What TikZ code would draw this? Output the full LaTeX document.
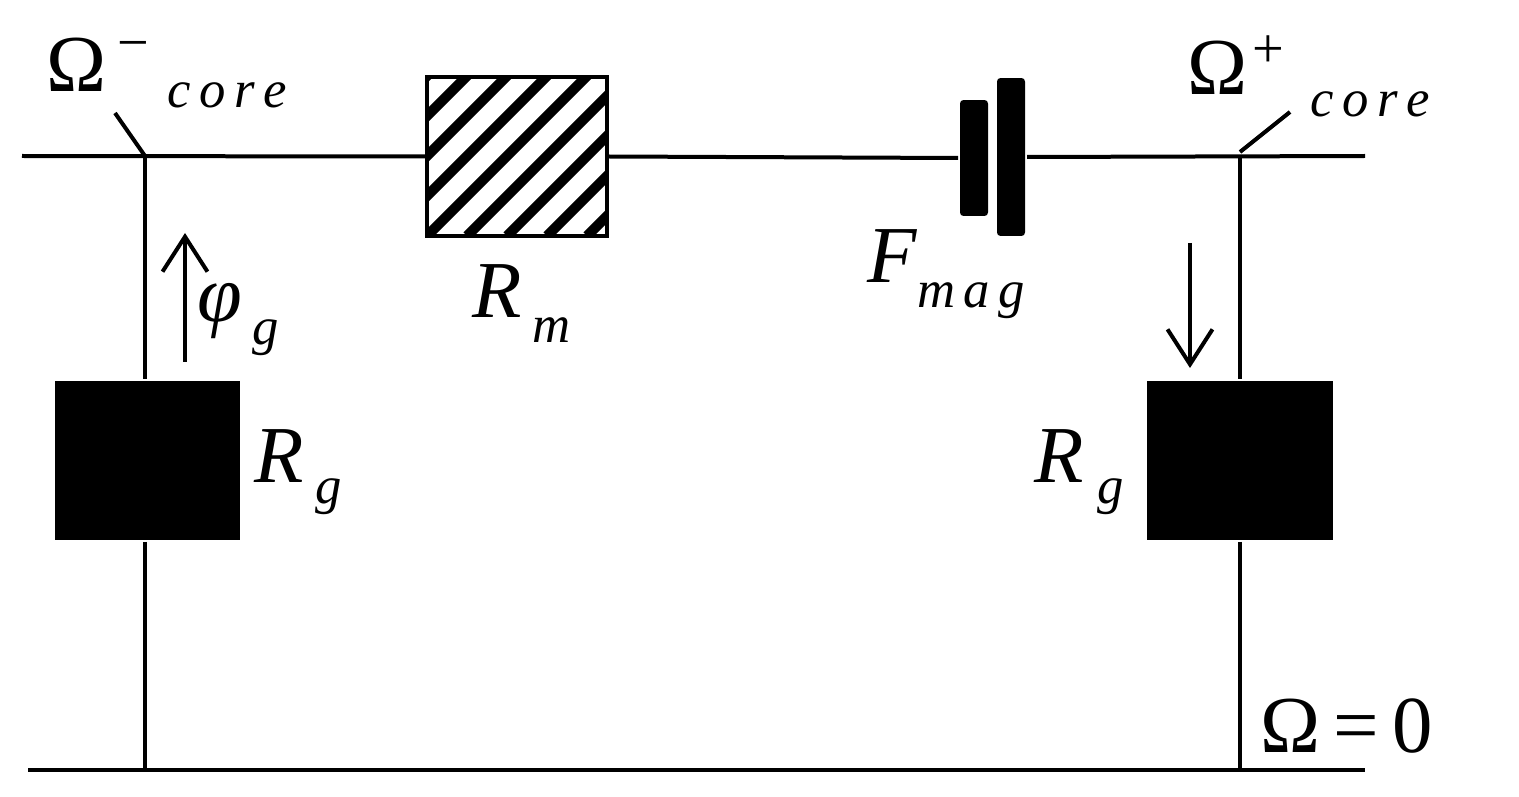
\documentclass[tikz,border=0pt]{standalone}
\usepackage{fontspec}
\setmainfont{Liberation Serif}
\usetikzlibrary{arrows.meta}
\begin{document}
\begin{tikzpicture}[x=0.02cm,y=-0.02cm,line width=0.08cm,
  lbl/.style={font=\fontsize{46}{52}\selectfont\itshape,inner sep=0},
  up/.style={font=\fontsize{46}{52}\selectfont,inner sep=0},
  sub/.style={font=\fontsize{30}{34}\selectfont\itshape,inner sep=0},
  blk/.style={fill=black,draw=none},
  arr/.style={-{Straight Barb[length=0.7cm,width=0.9cm,line width=0.08cm]},line width=0.08cm}]
\useasboundingbox (0,0) rectangle (1519,797);
\coordinate (tl) at (22,156); \coordinate (tr) at (1365,156);
\coordinate (jl) at (145,156); \coordinate (jr) at (1240,156);
\coordinate (bl) at (28,770); \coordinate (br) at (1365,770);
\coordinate (gl) at (145,770); \coordinate (gr) at (1240,770);
\node[blk,minimum width=3.7cm,minimum height=3.18cm] (rgl) at (147.5,460.5) {};
\node[blk,minimum width=3.72cm,minimum height=3.18cm] (rgr) at (1240,460.5) {};
\node[draw,minimum width=3.6cm,minimum height=3.18cm,inner sep=0] (rm) at (517,156.5) {};
\begin{scope}
\clip (427,77) rectangle (607,236);
\foreach \k in {-200,-160,...,200}
  \draw[line width=0.2cm] (427+\k,236) -- (627+\k,36);
\end{scope}
\draw (427,77) rectangle (607,236);
\node[blk,rounded corners=2pt,minimum width=0.56cm,minimum height=2.32cm,inner sep=0] (p1) at (974,158) {};
\node[blk,rounded corners=2pt,minimum width=0.56cm,minimum height=3.16cm,inner sep=0] (p2) at (1011,157) {};
\draw (tl) -- (rm.west); \draw (rm.east) -- (p1.west); \draw (p2.east) -- (tr);
\draw (jl) -- (jl|-rgl.north); \draw (gl|-rgl.south) -- (gl);
\draw (jr) -- (rgr.north); \draw (rgr.south) -- (gr);
\draw (bl) -- (br);
\coordinate (sl) at (115,113); \coordinate (sr) at (1290,112);
\draw (jl) -- (sl); \draw (1240,152) -- (sr);
\coordinate (a1) at (185,362); \coordinate (a2) at (185,233);
\draw[arr] (a1) -- (a2);
\coordinate (a3) at (1190,243); \coordinate (a4) at (1190,368);
\draw[arr] (a3) -- (a4);
\node[up,anchor=base west] (om1) at (45,92) {Ω};
\node[up,font=\fontsize{32}{36}\selectfont,anchor=base west] (m1) at (115,62) {−};
\node[sub,anchor=base west] (c1) at (165,108) {c\,o\,r\,e};
\node[up,anchor=base west] (om2) at (1185,95) {Ω};
\node[up,font=\fontsize{32}{36}\selectfont,anchor=base west] (p2l) at (1250,68) {+};
\node[sub,anchor=base west] (c2) at (1308,117) {c\,o\,r\,e};
\node[lbl,anchor=base west] (rml) at (470,318) {R};
\node[sub,anchor=base west] (rms) at (530,343) {m};
\node[lbl,anchor=base west] (fl) at (865,283) {F};
\node[sub,anchor=base west] (fs) at (915,308) {m\,a\,g};
\node[lbl,anchor=base west] (ph) at (195,322) {φ};
\node[sub,anchor=base west] (phs) at (250,345) {g};
\node[lbl,anchor=base west] (r1) at (252,482) {R};
\node[sub,anchor=base west] (r1s) at (313,503) {g};
\node[lbl,anchor=base west] (r2) at (1032,482) {R};
\node[sub,anchor=base west] (r2s) at (1095,503) {g};
\node[up,anchor=base west] (oz) at (1258,752) {Ω\,=\,0};
\end{tikzpicture}
\end{document}
